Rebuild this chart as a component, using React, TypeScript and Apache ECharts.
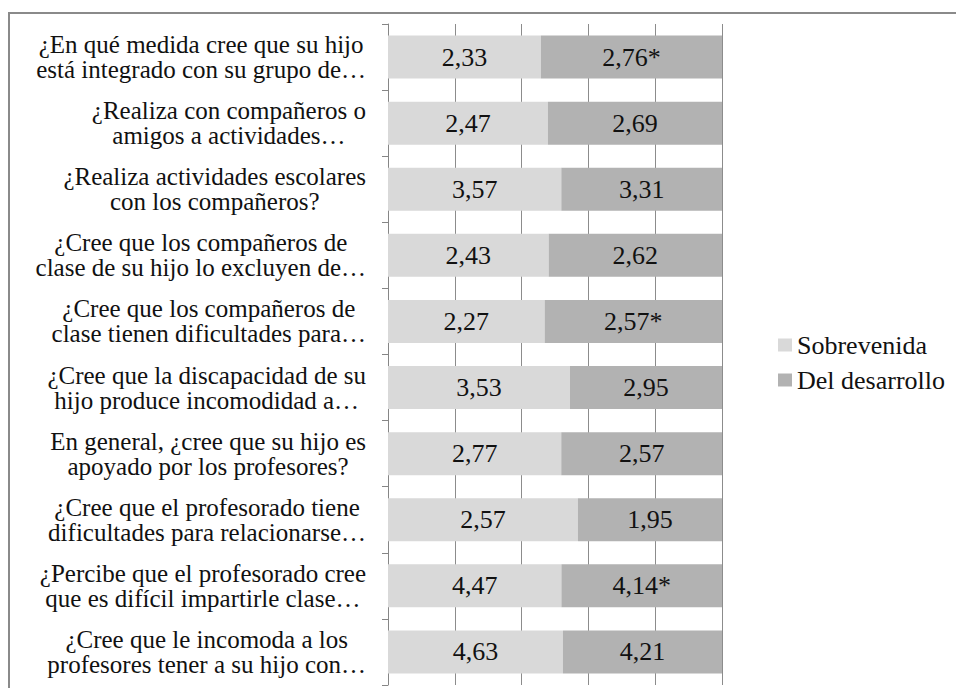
import React, { useEffect, useRef } from "react";
import * as echarts from "echarts";

const categories: string[] = [
  "¿En qué medida cree que su hijo\nestá integrado con su grupo de…",
  "¿Realiza con compañeros o\namigos a actividades…",
  "¿Realiza actividades escolares\ncon los compañeros?",
  "¿Cree que los compañeros de\nclase de su hijo lo excluyen de…",
  "¿Cree que los compañeros de\nclase tienen dificultades para…",
  "¿Cree que la discapacidad de su\nhijo produce incomodidad a…",
  "En general, ¿cree que su hijo es\napoyado por los profesores?",
  "¿Cree que el profesorado tiene\ndificultades para relacionarse…",
  "¿Percibe que el profesorado cree\nque es difícil impartirle clase…",
  "¿Cree que le incomoda a los\nprofesores tener a su hijo con…",
];

const seriesNames: string[] = ["Sobrevenida", "Del desarrollo"];

const sobrevenida: number[] = [2.33, 2.47, 3.57, 2.43, 2.27, 3.53, 2.77, 2.57, 4.47, 4.63];
const desarrollo: number[] = [2.76, 2.69, 3.31, 2.62, 2.57, 2.95, 2.57, 1.95, 4.14, 4.21];
// significance marks (*) shown next to the value
const sobrevenidaSig: boolean[] = [false, false, false, false, false, false, false, false, false, false];
const desarrolloSig: boolean[] = [true, false, false, false, true, false, false, false, true, false];

const FONT = "Liberation Serif";

function fmt(v: number, sig: boolean): string {
  return v.toFixed(2).replace(".", ",") + (sig ? "*" : "");
}

export default function App() {
  const ref = useRef<HTMLDivElement>(null);

  useEffect(() => {
    if (!ref.current) return;
    const chart = echarts.init(ref.current, undefined, { renderer: "svg" });

    const totals = sobrevenida.map((v, i) => v + desarrollo[i]);
    const mk = (vals: number[], sig: boolean[]) =>
      vals.map((v, i) => ({ value: (v / totals[i]) * 100, raw: v, sig: sig[i] }));

    const labelStyle = {
      show: true,
      position: "inside" as const,
      fontFamily: FONT,
      fontSize: 26,
      color: "#111",
      formatter: (p: any) => fmt(p.data.raw, p.data.sig),
    };

    chart.setOption({
      animation: false,
      backgroundColor: "#ffffff",
      textStyle: { fontFamily: FONT },
      graphic: [
        {
          type: "rect",
          shape: { x: 9, y: 13, width: 2000, height: 2000 },
          style: { fill: "none", stroke: "#8a8a8a", lineWidth: 2 },
          silent: true,
        },
      ],
      legend: {
        data: seriesNames,
        orient: "vertical",
        left: 773,
        top: 327,
        itemWidth: 14,
        itemHeight: 13,
        itemGap: 9,
        icon: "rect",
        textStyle: { fontFamily: FONT, fontSize: 26, lineHeight: 26, color: "#111" },
      },
      grid: { left: 388, right: 234, top: 24, bottom: 3, containLabel: false },
      xAxis: {
        type: "value",
        min: 0,
        max: 100,
        interval: 20,
        axisLine: { show: false },
        axisTick: { show: false },
        axisLabel: { show: false },
        splitLine: { show: true, lineStyle: { color: "#8c8c8c", width: 1 } },
      },
      yAxis: {
        type: "category",
        inverse: true,
        data: categories,
        axisLine: { show: true, lineStyle: { color: "#868686", width: 1 } },
        axisTick: { show: true, length: 6, lineStyle: { color: "#868686" } },
        axisLabel: {
          margin: 22,
          align: "right",
          fontFamily: FONT,
          fontSize: 25,
          lineHeight: 25,
          color: "#111",
          formatter: (v: string) =>
            v
              .split("\n")
              .map((l) => `{c|${l}}`)
              .join("\n"),
          rich: {
            c: {
              align: "center",
              fontFamily: FONT,
              fontSize: 25,
              lineHeight: 25,
              color: "#111",
            },
          },
        },
        splitLine: { show: false },
      },
      series: [
        {
          name: seriesNames[0],
          type: "bar",
          stack: "total",
          barCategoryGap: "35%",
          itemStyle: { color: "#d9d9d9" },
          label: labelStyle,
          emphasis: { disabled: true },
          data: mk(sobrevenida, sobrevenidaSig),
        },
        {
          name: seriesNames[1],
          type: "bar",
          stack: "total",
          barCategoryGap: "35%",
          itemStyle: { color: "#b2b2b2" },
          label: labelStyle,
          emphasis: { disabled: true },
          data: mk(desarrollo, desarrolloSig),
        },
      ],
    });

    return () => chart.dispose();
  }, []);

  return (
    <div
      ref={ref}
      style={{ position: "fixed", left: 0, top: 0, width: 956, height: 688, background: "#fff" }}
    />
  );
}
